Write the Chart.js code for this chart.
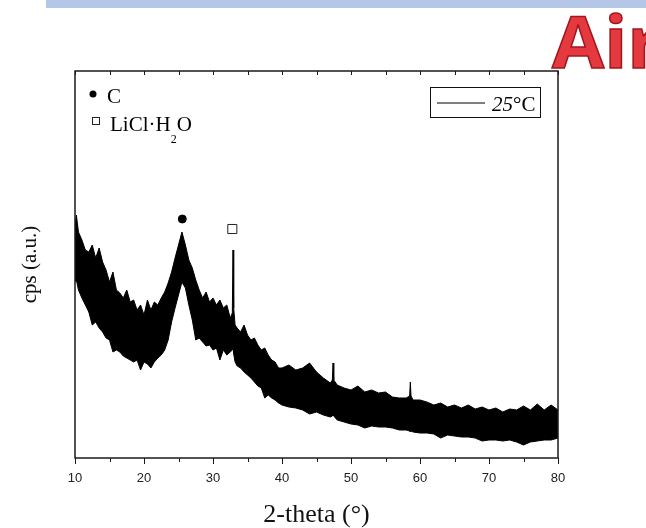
<!DOCTYPE html>
<html>
<head>
<meta charset="utf-8">
<script src="https://cdn.jsdelivr.net/npm/chart.js@4"></script>
<style>
    html, body { margin: 0; padding: 0; background: #fff; }
    #wrap { position: relative; width: 646px; height: 528px; overflow: hidden; }
    #topbar { position: absolute; left: 46px; top: 0; width: 600px; height: 8px; background: #b4c7e7; }
    #air {
        position: absolute; left: 552px; top: 4px;
        font: bold 72px "Open Sans", sans-serif; line-height: 72px;
        color: #e3393f; -webkit-text-stroke: 1.5px #a3161c; white-space: nowrap;
        transform: scaleX(1.05); transform-origin: left top;
    }
</style>
</head>
<body>
<div id="wrap">
    <div id="topbar"></div>
    <div id="air">Air</div>
    <canvas id="xrd-chart" width="646" height="528"></canvas>
</div>
<script>
// =================================================================
// Data (cps in arbitrary units)
// =================================================================
const twoTheta = [10, 10.2, 10.5, 11, 11.5, 12, 12.5, 13, 13.5, 14, 14.5, 15, 15.5, 16, 16.5, 17, 17.5, 18, 18.5,
    19, 19.5, 20, 20.5, 21, 21.5, 22, 22.5, 23, 23.5, 24, 24.5, 25, 25.5, 26, 26.5, 27, 27.5, 28, 28.5, 29, 29.5,
    30, 30.5, 31, 31.5, 32, 32.5, 32.8, 32.9, 33, 33.2, 33.5, 34, 34.5, 35, 35.5, 36, 36.5, 37, 37.5, 38, 38.5,
    39, 39.5, 40, 41, 42, 43, 44, 45, 46, 47, 47.3, 47.4, 47.5, 48, 49, 50, 51, 52, 53, 54, 55, 56, 57, 58,
    58.5, 58.6, 58.7, 59, 60, 61, 62, 63, 64, 65, 66, 67, 68, 69, 70, 71, 72, 73, 74, 75, 76, 77, 78, 79, 80];
// upper edge of the noisy trace
const cpsUpper = [233, 243, 226, 218, 208, 206, 213, 200, 210, 196, 188, 176, 186, 168, 165, 160, 168, 156, 158,
    148, 153, 143, 158, 148, 156, 153, 160, 166, 175, 186, 200, 213, 226, 213, 198, 190, 178, 168, 160, 166, 156,
    160, 153, 158, 150, 153, 140, 145, 208, 150, 133, 130, 126, 133, 123, 118, 120, 113, 108, 110, 103, 98,
    96, 90, 90, 93, 88, 90, 95, 86, 80, 75, 78, 95, 78, 73, 70, 68, 72, 66, 68, 65, 66, 61, 60, 60,
    62, 76, 62, 58, 58, 56, 53, 55, 51, 53, 50, 53, 49, 51, 48, 50, 46, 49, 48, 52, 48, 54, 48, 53, 48];
// lower edge of the noisy trace
const cpsLower = [176, 178, 168, 160, 153, 146, 133, 136, 130, 126, 120, 118, 106, 108, 106, 102, 100, 98, 96,
    98, 88, 96, 94, 90, 96, 100, 103, 108, 118, 136, 150, 163, 176, 170, 153, 138, 118, 120, 116, 112, 113,
    108, 110, 98, 108, 103, 106, 108, 110, 104, 96, 92, 90, 86, 83, 80, 76, 72, 70, 60, 63, 60,
    58, 55, 53, 51, 50, 48, 44, 46, 43, 41, 42, 43, 42, 38, 36, 34, 33, 30, 32, 31, 31, 30, 28, 28,
    27, 26, 27, 26, 25, 25, 24, 20, 23, 22, 21, 21, 20, 17, 18, 18, 17, 18, 16, 13, 16, 17, 18, 18, 20];

// phase markers above the peaks
const carbonTheta = [25.55];
const carbonCps = [239];
const liclTheta = [32.8];
const liclCps = [229];

const xTicks = [10, 20, 30, 40, 50, 60, 70, 80];
const X_MIN = 10, X_MAX = 80, MINOR_STEP = 5;
const Y_MIN = 0, Y_MAX = 387;

function toPoints(xs, ys) {
    return xs.map((v, i) => ({ x: v, y: ys[i] }));
}

// =================================================================
// Frame, inward top ticks, minor ticks and the text legends
// =================================================================
const framePlugin = {
    id: 'frame',
    afterDatasetsDraw(chart) {
        const { ctx, chartArea: a, scales: { x } } = chart;
        ctx.save();
        ctx.strokeStyle = '#1a1a1a';
        ctx.lineWidth = 1;
        for (let v = X_MIN; v <= X_MAX; v += MINOR_STEP) {
            const px = Math.round(x.getPixelForValue(v)) + 0.5;
            ctx.beginPath();
            ctx.moveTo(px, a.top);
            ctx.lineTo(px, a.top + 4);
            if (v % 10 !== 0) {
                ctx.moveTo(px, a.bottom);
                ctx.lineTo(px, a.bottom + 4);
            }
            ctx.stroke();
        }
        ctx.lineWidth = 1.5;
        ctx.strokeRect(a.left, a.top, a.right - a.left, a.bottom - a.top);
        ctx.restore();
    },
    afterDraw(chart) {
        const { ctx, chartArea: a } = chart;
        ctx.save();
        ctx.fillStyle = '#000';
        ctx.textBaseline = 'alphabetic';
        ctx.font = '21px "Liberation Serif"';

        // phase key, top left
        ctx.beginPath();
        ctx.arc(a.left + 18, a.top + 23, 3.5, 0, Math.PI * 2);
        ctx.fill();
        ctx.fillText('C', a.left + 32, a.top + 32);

        ctx.lineWidth = 1;
        ctx.strokeStyle = '#222';
        ctx.strokeRect(a.left + 17.5, a.top + 46.5, 7, 7);
        ctx.fillText('LiCl·H', a.left + 35, a.top + 60);
        const w = ctx.measureText('LiCl·H').width;
        ctx.font = '12px "Liberation Serif"';
        ctx.fillText('2', a.left + 35 + w, a.top + 72);
        ctx.font = '21px "Liberation Serif"';
        ctx.fillText('O', a.left + 35 + w + 6, a.top + 60);

        // series legend, top right
        ctx.strokeStyle = '#111';
        ctx.strokeRect(430.5, 87.5, 110, 30);
        ctx.strokeStyle = '#555';
        ctx.lineWidth = 1.5;
        ctx.beginPath();
        ctx.moveTo(437, 103);
        ctx.lineTo(485, 103);
        ctx.stroke();
        ctx.font = 'italic 21px "Liberation Serif"';
        ctx.fillText('25', 492, 111);
        const w2 = ctx.measureText('25').width;
        ctx.font = '21px "Liberation Serif"';
        ctx.fillText('°C', 492 + w2, 111);
        ctx.restore();
    }
};

// =================================================================
// Chart
// =================================================================
const ctx = document.getElementById('xrd-chart').getContext('2d');
const xrdChart = new Chart(ctx, {
    type: 'line',
    data: {
        datasets: [{
            label: '25°C',
            data: toPoints(twoTheta, cpsUpper),
            borderColor: '#000',
            backgroundColor: '#000',
            borderWidth: 1,
            pointRadius: 0,
            fill: '+1',
            tension: 0
        }, {
            label: 'lower',
            data: toPoints(twoTheta, cpsLower),
            borderColor: '#000',
            borderWidth: 1,
            pointRadius: 0,
            fill: false,
            tension: 0
        }, {
            label: 'C',
            data: toPoints(carbonTheta, carbonCps),
            showLine: false,
            pointStyle: 'circle',
            pointRadius: 4,
            backgroundColor: '#000',
            borderColor: '#000'
        }, {
            label: 'LiCl·H2O',
            data: toPoints(liclTheta, liclCps),
            showLine: false,
            pointStyle: 'rect',
            pointRadius: 6.4,
            backgroundColor: '#fff',
            borderColor: '#222',
            borderWidth: 1
        }]
    },
    options: {
        responsive: false,
        animation: false,
        layout: { padding: { top: 71, right: 88, bottom: 0, left: 0 } },
        plugins: { legend: { display: false }, tooltip: { enabled: false } },
        scales: {
            x: {
                type: 'linear',
                min: X_MIN,
                max: X_MAX,
                afterBuildTicks: s => { s.ticks = xTicks.map(v => ({ value: v })); },
                afterFit: s => { s.height = 70; },
                grid: { display: true, drawOnChartArea: false, tickLength: 6, tickColor: '#1a1a1a', tickWidth: 1 },
                border: { display: false },
                ticks: { color: '#222', font: { family: '"Liberation Sans"', size: 13 }, padding: 7, maxRotation: 0 },
                title: {
                    display: true,
                    text: '2-theta (°)',
                    color: '#111',
                    font: { family: '"Liberation Serif"', size: 26, lineHeight: 1 },
                    padding: { top: 0, bottom: 0 }
                }
            },
            y: {
                min: Y_MIN,
                max: Y_MAX,
                afterFit: s => { s.width = 75; },
                grid: { display: false },
                border: { display: false },
                ticks: { display: false },
                title: {
                    display: true,
                    text: 'cps (a.u.)',
                    color: '#111',
                    font: { family: '"Liberation Serif"', size: 21 },
                    padding: { top: 18, bottom: 0 }
                }
            }
        }
    },
    plugins: [framePlugin]
});
</script>
</body>
</html>
